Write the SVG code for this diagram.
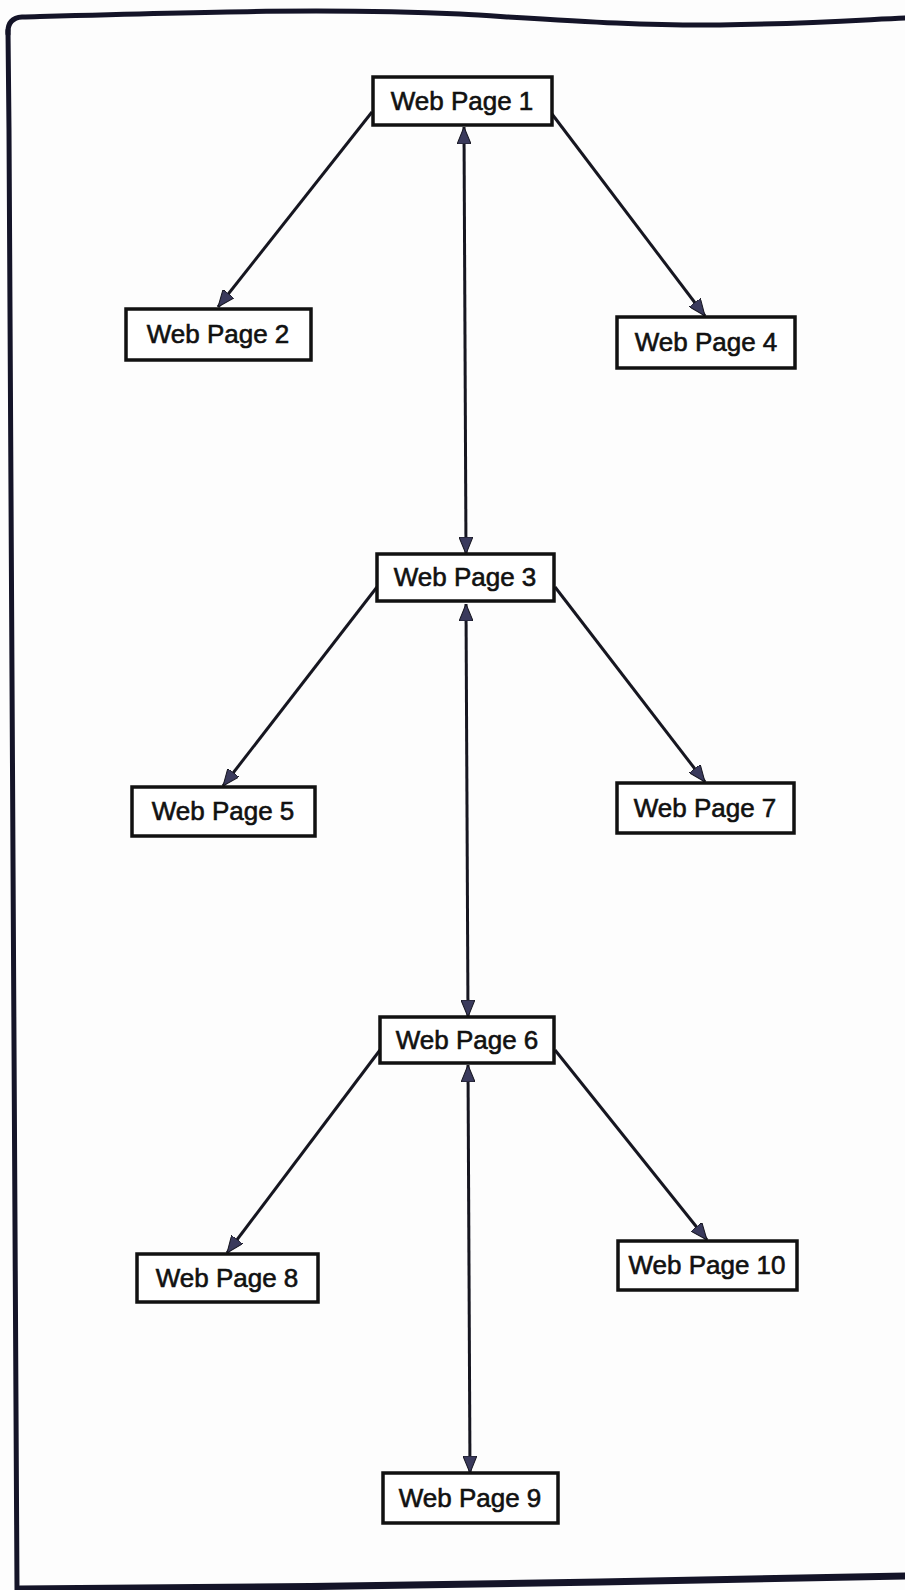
<svg xmlns="http://www.w3.org/2000/svg" width="905" height="1590" viewBox="0 0 905 1590">
<style>
.box{fill:#fff;stroke:#111;stroke-width:3.5}
.lbl{font-family:"Liberation Sans",Arial,sans-serif;font-size:26px;fill:#111;stroke:#111;stroke-width:0.6;text-anchor:middle}
.edge{stroke:#161620;stroke-width:3;fill:none}
.frame{stroke:#141428;fill:none;stroke-linecap:round}
</style>
<defs>
<marker id="ah" viewBox="0 0 17 14" refX="17" refY="7" markerWidth="17" markerHeight="14" markerUnits="userSpaceOnUse" orient="auto-start-reverse">
<path d="M0,0 L17,7 L0,14 Z" fill="#3a3a5c" stroke="#161620" stroke-width="1"/>
</marker>
</defs>
<rect width="905" height="1590" fill="#fdfdfd"/>
<g id="frame">
<path class="frame" stroke-width="5" d="M8,34 Q7,18 22,17 C200,12 330,8 460,14 C560,20 640,26 720,25 C800,24 860,20 905,18"/>
<path class="frame" stroke-width="5" d="M8,30 L9,130 L17,1590"/>
<path class="frame" stroke-width="7" d="M20,1589 C200,1588 420,1586 600,1582 C720,1579 820,1577 905,1576"/>
</g>
<g id="connectors">
<line class="edge" x1="372" y1="112" x2="218" y2="307" marker-end="url(#ah)"/>
<line class="edge" x1="552" y1="114" x2="705" y2="316" marker-end="url(#ah)"/>
<line class="edge" x1="464" y1="127" x2="466" y2="554" marker-start="url(#ah)" marker-end="url(#ah)"/>
<line class="edge" x1="377" y1="587" x2="223" y2="786" marker-end="url(#ah)"/>
<line class="edge" x1="555" y1="587" x2="705" y2="782" marker-end="url(#ah)"/>
<line class="edge" x1="466" y1="604" x2="468" y2="1017" marker-start="url(#ah)" marker-end="url(#ah)"/>
<line class="edge" x1="380" y1="1050" x2="227" y2="1253" marker-end="url(#ah)"/>
<line class="edge" x1="555" y1="1050" x2="707" y2="1240" marker-end="url(#ah)"/>
<line class="edge" x1="468" y1="1065" x2="470" y2="1473" marker-start="url(#ah)" marker-end="url(#ah)"/>
</g>
<g id="node1"><rect class="box" x="373" y="77" width="179" height="48"/><text class="lbl" x="462" y="110">Web Page 1</text></g>
<g id="node2"><rect class="box" x="126" y="309" width="185" height="51"/><text class="lbl" x="218" y="343">Web Page 2</text></g>
<g id="node4"><rect class="box" x="617" y="317" width="178" height="51"/><text class="lbl" x="706" y="351">Web Page 4</text></g>
<g id="node3"><rect class="box" x="377" y="554" width="177" height="47"/><text class="lbl" x="465" y="586">Web Page 3</text></g>
<g id="node5"><rect class="box" x="132" y="787" width="183" height="49"/><text class="lbl" x="223" y="820">Web Page 5</text></g>
<g id="node7"><rect class="box" x="617" y="783" width="177" height="50"/><text class="lbl" x="705" y="817">Web Page 7</text></g>
<g id="node6"><rect class="box" x="380" y="1017" width="174" height="46"/><text class="lbl" x="467" y="1049">Web Page 6</text></g>
<g id="node8"><rect class="box" x="137" y="1254" width="181" height="48"/><text class="lbl" x="227" y="1287">Web Page 8</text></g>
<g id="node10"><rect class="box" x="618" y="1241" width="179" height="49"/><text class="lbl" x="707" y="1274">Web Page 10</text></g>
<g id="node9"><rect class="box" x="383" y="1473" width="175" height="50"/><text class="lbl" x="470" y="1507">Web Page 9</text></g>
</svg>
